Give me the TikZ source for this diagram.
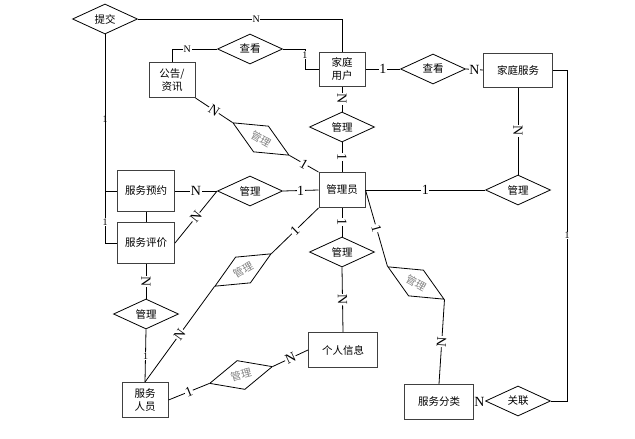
\documentclass[tikz,border=0pt]{standalone}
\usepackage{fontspec}
\setmainfont{Liberation Serif}
\newfontfamily\cjk{Noto Sans CJK SC}
\usetikzlibrary{shapes.geometric}

\begin{document}
\begin{tikzpicture}[x=1pt,y=-1pt,
  ent/.style={draw=black!75,line width=1pt,minimum width=46pt,minimum height=35pt,inner sep=1pt,align=center,font=\cjk\fontsize{10.5}{12.5}\selectfont},
  rel/.style={draw,diamond,aspect=2,line width=0.8pt,minimum width=65pt,minimum height=30pt,inner sep=0pt,font=\cjk\fontsize{10.5}{12}\selectfont},
  rrel/.style={rel,text=gray},
  cs/.style={fill=white,inner sep=0.6pt,font=\fontsize{10}{10}\selectfont},
  cb/.style={fill=white,inner sep=0.6pt,font=\fontsize{14}{14}\selectfont},
  cr/.style={cb,sloped}]
\useasboundingbox (0,0) rectangle (635,439);
\node[rel] (tj) at (105,19) {提交};
\node[rel] (ck1) at (250,49) {查看};
\node[ent,minimum height=34pt] (jt) at (342,69) {家庭\\用户};
\node[ent] (gz) at (172,80) {公告/\\资讯};
\node[rel] (ck2) at (433,69) {查看};
\node[ent,minimum width=69pt,minimum height=34pt] (fw) at (518,70) {家庭服务};
\node[rel] (gl1) at (342,127) {管理};
\node[rrel,rotate=-30] (gl2) at (261,139) {管理};
\node[ent] (gly) at (342,190) {管理员};
\node[rel] (gl3) at (518,190) {管理};
\node[ent,minimum width=57pt,minimum height=41pt] (yy) at (146,191) {服务预约};
\node[ent,minimum width=57pt,minimum height=41pt] (pj) at (146,243) {服务评价};
\node[rel] (gl4) at (250,191) {管理};
\node[rrel,rotate=30] (gl5) at (243,270) {管理};
\node[rel] (gl6) at (342,252) {管理};
\node[rrel,rotate=-30] (gl7) at (416,283) {管理};
\node[rel] (gl8) at (146,314) {管理};
\node[rrel,rotate=15] (gl9) at (241,375) {管理};
\node[ent] (ry) at (145,400) {服务\\人员};
\node[ent,minimum width=69pt] (xx) at (343,350) {个人信息};
\node[ent,minimum width=69pt] (fl) at (439,402) {服务分类};
\node[rel] (gl) at (518,401) {关联};
\draw[line width=0.8pt] (tj.east) -| node[cs,pos=0.29]{N} (jt.north);
\draw[line width=0.8pt] (ck1.west) -| node[cs,pos=0.33]{N} (gz.north);
\draw[line width=0.8pt] (ck1.east) -- ++(22,0) |- node[cs,pos=0.15]{1} (jt.west);
\draw[line width=0.8pt] (tj.south) |- node[cs,pos=0.27]{1} (yy.west);
\draw[line width=0.8pt] (tj.south) |- node[cs,pos=0.45]{1} (pj.west);
\draw[line width=0.8pt] (yy.south) -- (pj.north);
\draw[line width=0.8pt] (fw.east) -- ++(14,0) |- node[cs,pos=0.25]{1} (gl.east);
\draw[line width=0.8pt] (gl8.south) -- node[cs]{1} (ry.north);
\foreach \a/\b/\t in {jt.east/ck2.west/1,ck2.east/fw.west/N,gly.east/gl3.west/1,yy.east/gl4.west/N,gl4.east/gly.west/1,fl.east/gl.west/N}
  \draw[line width=0.8pt] (\a) -- node[cb]{\t} (\b);
\foreach \a/\b/\t in {jt.south/gl1.north/N,gl1.south/gly.north/1,gz.south east/gl2.west/N,gl2.east/gly.north west/1,fw.south/gl3.north/N,pj.east/gl4.west/N,pj.south/gl8.north/N,gl5.east/gly.south west/1,gly.south/gl6.north/1,gl6.south/xx.north/N,ry.north/gl5.west/N,ry.east/gl9.west/1,gl9.east/xx.west/N,gly.east/gl7.west/1,gl7.east/fl.north/N}
  \draw[line width=0.8pt] (\a) -- node[cr]{\t} (\b);
\end{tikzpicture}
\end{document}
